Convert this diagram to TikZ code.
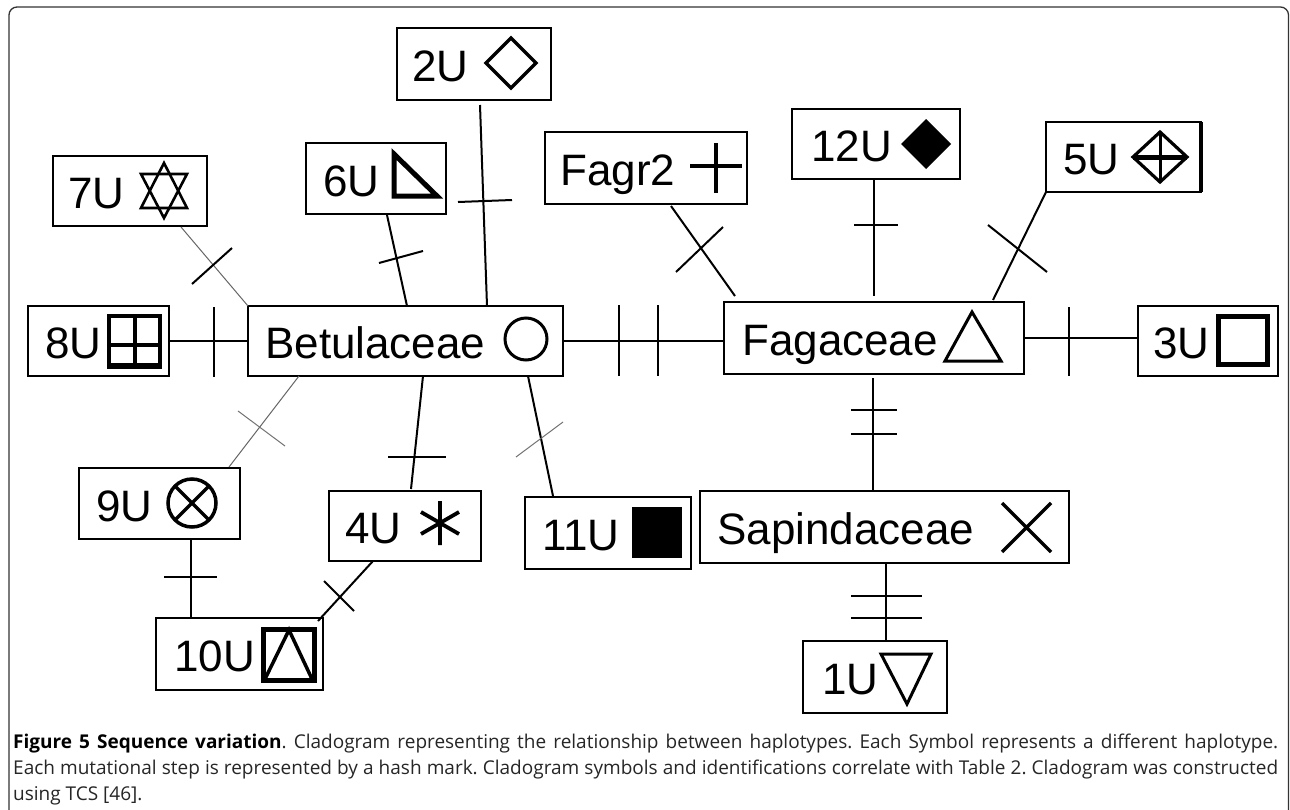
\documentclass[tikz,border=0pt]{standalone}
\usepackage{fontspec}
\setmainfont{Liberation Sans}
\newfontfamily\dgfont{Liberation Sans}
\newfontfamily\capfont{Open Sans}
\usetikzlibrary{calc}
\tikzset{
  bxs/.style={draw, line width=2.2pt, inner sep=0pt, outer sep=0pt},
  lbl/.style={font=\dgfont\fontsize{44}{50}\selectfont, inner sep=0pt},
  conn/.style={line width=2pt},
  thinconn/.style={line width=1pt, draw=black!60},
  hash/.style={line width=2pt},
  thinhash/.style={line width=1pt, draw=black!55},
  sym/.style={line width=3.2pt, line join=miter},
  framec/.style={line width=1.3pt, draw=black!80, rounded corners=8pt}
}
\newcommand\mkbox[7]{%
  \node[bxs, minimum width={(#4-#2)*1pt}, minimum height={(#5-#3)*1pt}] (#1) at ({(#2+#4)/2},{(#3+#5)/2}) {};
  \node[lbl, anchor=base west] (#1t) at (#6,{(#3+#5)/2+17.5}) {#7};}
\begin{document}
\begin{tikzpicture}[x=1pt,y=-1pt]
\fill[white] (0,0) rectangle (1290,809);
\useasboundingbox (0,0) rectangle (1290,809);
\draw[framec] (9,812) -- (9,7) -- (1288.5,7) -- (1288.5,812);

% boxes
\mkbox{u2}{397}{28}{551}{100}{412}{2U}
\mkbox{u7}{53}{156}{207}{226}{68}{7U}
\mkbox{u6}{306}{143}{446}{214}{323}{6U}
\mkbox{u8}{28}{306}{169}{376}{45}{8U}
\mkbox{bet}{248}{306}{563}{376}{265}{Betulaceae}
\mkbox{fagr}{545}{132}{747}{204}{560}{Fagr2}
\mkbox{u12}{792}{109}{960}{179}{811}{12U}
\mkbox{u5}{1046}{122}{1201}{192}{1063}{5U}
\mkbox{fag}{724}{302}{1024}{374}{742}{Fagaceae}
\mkbox{u3}{1138}{306}{1278}{376}{1153}{3U}
\mkbox{sap}{700}{491}{1069}{563}{717}{Sapindaceae}
\mkbox{u1}{803}{641}{947}{713}{822}{1U}
\mkbox{u9}{79}{468}{240}{539}{96}{9U}
\mkbox{u4}{329}{491}{481}{561}{345}{4U}
\mkbox{u11}{525}{497}{691}{569}{542}{11U}
\mkbox{u10}{156}{618}{323}{690}{174}{10U}
\draw[line width=4pt] (1201,122) -- (1201,192);

% symbols
\draw[sym] (511,38) -- (536,63) -- (511,88) -- (486,63) -- cycle;
\draw[sym, line width=2.6pt] (164,163) -- (187,208) -- (141,208) -- cycle;
\draw[sym, line width=2.6pt] (141,174) -- (187,174) -- (164,218) -- cycle;
\draw[sym, line width=5pt] (394,154) -- (437,196) -- (394,196) -- cycle;
\draw[sym, line width=4.5pt] (109,316) rectangle (160,367);
\draw[line width=6pt] (107,366) -- (162,366);
\draw[line width=3.5pt] (135,316) -- (135,367) (109,345) -- (160,345);
\draw[sym, line width=3pt] (526,339) circle[radius=21];
\draw[line width=4pt] (716,143) -- (716,193) (690,166) -- (742,166);
\fill (926,119) -- (951,144) -- (926,169) -- (901,144) -- cycle;
\draw[sym] (1160,132) -- (1187,157) -- (1160,182) -- (1133,157) -- cycle;
\draw[line width=5pt] (1133,157) -- (1187,157);
\draw[line width=3pt] (1160,132) -- (1160,182);
\draw[sym, line width=3pt] (972,312) -- (1001,361) -- (945,361) -- cycle;
\draw[sym, line width=5pt] (1218,316) rectangle (1267,364);
\draw[line width=3.5pt] (1002,503) -- (1051,552) (1002,552) -- (1051,503);
\draw[sym, line width=3pt] (881,654) -- (931,654) -- (907,704) -- cycle;
\draw[line width=3.5pt] (192,503) circle[radius=24];
\draw[line width=3.5pt] (175,486) -- (209,520) (175,520) -- (209,486);
\draw[line width=3.8pt] (440,501) -- (440,545) (421,512) -- (459,534) (421,534) -- (459,512);
\fill (632,507) rectangle (682,558);
\draw[sym, line width=5pt] (263,629) rectangle (314,680);
\draw[line width=3.5pt] (265,679) -- (289,630) -- (312,679);

% connectors
\draw[conn] (u8.east) -- (bet.west);
\draw[thinconn] ($(u7.south west)+(128,1)$) -- (bet.north west);
\draw[conn] ($(u6.south west)+(81,1)$) -- ($(bet.north west)+(159,0)$);
\draw[conn] ($(u2.south west)+(83,5)$) -- ($(bet.north west)+(239,0)$);
\draw[conn] (bet.east) -- (bet.east -| fag.west);
\draw[conn] ($(fagr.south west)+(126,2)$) -- ($(fag.north west)+(11,-6)$);
\draw[conn] ($(u12.south west)+(82,1)$) -- ($(fag.north west)+(150,-6)$);
\draw[conn] (u5.south west) -- ($(fag.north west)+(269,-2)$);
\draw[conn] (fag.east) -- (fag.east -| u3.west);
\draw[conn] ($(fag.south west)+(149,4)$) -- ($(sap.north west)+(173,0)$);
\draw[conn] ($(sap.south west)+(186,0)$) -- ($(u1.north west)+(83,0)$);
\draw[thinconn] ($(bet.south west)+(51,0)$) -- ($(u9.north west)+(150,-1)$);
\draw[conn] ($(bet.south west)+(175,0)$) -- ($(u4.north west)+(82,-2)$);
\draw[conn] ($(bet.south west)+(280,0)$) -- ($(u11.north west)+(28,-1)$);
\draw[conn] ($(u9.south west)+(112,0)$) -- ($(u10.north west)+(35,0)$);
\draw[conn] ($(u4.south west)+(44,0)$) -- ($(u10.north east)+(-5,3)$);

% hash marks
\draw[hash] (192,284) -- (232,248);
\draw[hash] (379,263) -- (423,251);
\draw[hash] (458,202) -- (512,200);
\draw[hash] (214,307) -- (214,377);
\draw[hash] (619,305) -- (619,376) (658,305) -- (658,376);
\draw[hash] (676,272) -- (723,227);
\draw[hash] (854,225) -- (898,225);
\draw[hash] (988,225) -- (1047,272);
\draw[hash] (1069,307) -- (1069,376);
\draw[hash] (851,410) -- (897,410) (851,434) -- (897,434);
\draw[hash] (851,596) -- (922,596) (851,618) -- (922,618);
\draw[thinhash] (238,411) -- (285,446);
\draw[hash] (388,457) -- (446,457);
\draw[thinhash] (516,457) -- (563,422);
\draw[hash] (164,577) -- (217,577);
\draw[hash] (324,581) -- (354,611);

% caption
\node[anchor=base west, inner sep=0pt, text width=1265pt, align=justify,
      font=\capfont\fontsize{19}{26}\selectfont\frenchspacing, text=black!85] (cap) at (13,748)
 {\textbf{\color{black}Figure 5 Sequence variation}. Cladogram representing the relationship between haplotypes. Each Symbol represents a different haplotype.\linebreak
 Each mutational step is represented by a hash mark. Cladogram symbols and identifications correlate with Table 2. Cladogram was constructed\linebreak
 using TCS [46].};
\end{tikzpicture}
\end{document}
